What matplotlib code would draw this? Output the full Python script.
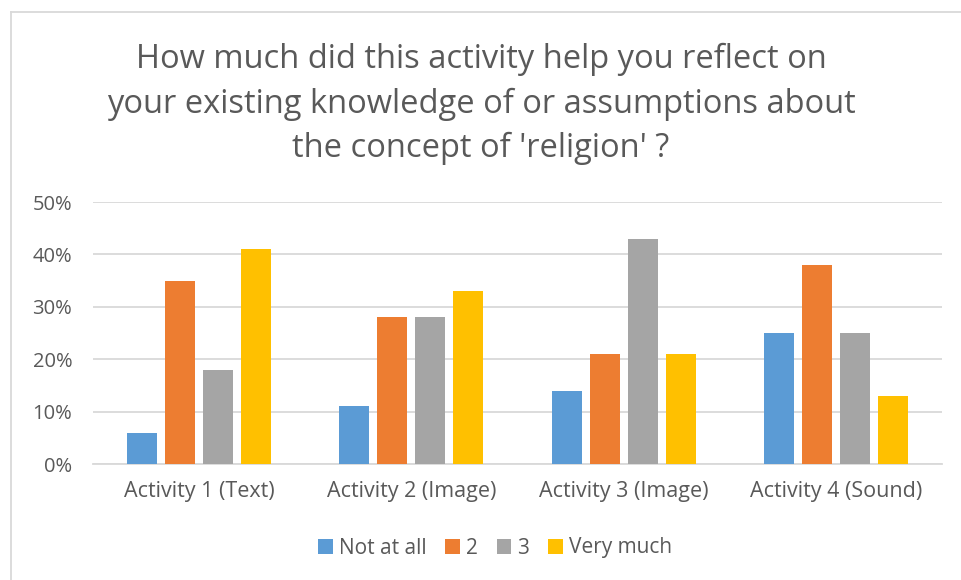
import numpy as np
import matplotlib
matplotlib.use("Agg")
import matplotlib.pyplot as plt
from matplotlib.lines import Line2D

plt.rcParams['font.family'] = ['Open Sans', 'DejaVu Sans']

# donnees
categories = ["Activity 1 (Text)", "Activity 2 (Image)", "Activity 3 (Image)", "Activity 4 (Sound)"]
series = ["Not at all", "2", "3", "Very much"]
not_at_all = [6, 11, 14, 25]
deux = [35, 28, 21, 38]
trois = [18, 28, 43, 25]
very_much = [41, 33, 21, 13]
valeurs = [not_at_all, deux, trois, very_much]
couleurs = ["#5b9bd5", "#ed7d31", "#a5a5a5", "#ffc000"]

texte = "#595959"
grille = "#d9d9d9"

fig = plt.figure(figsize=(9.62, 5.8), dpi=100)
ax = fig.add_axes([93/962, 1-464/580, (942-93)/962, (464-202)/580])

x = np.arange(len(categories))
pas = 0.179
largeur = 0.141
for i, (nom, vals, coul) in enumerate(zip(series, valeurs, couleurs)):
    ax.bar(x + (i-1.5)*pas, vals, width=largeur, color=coul, label=nom, zorder=3)

ax.set_xlim(-0.5, 3.5)
ax.set_ylim(0, 50)
ax.set_yticks(np.arange(0, 51, 10))
ax.set_yticklabels([f"{v}%" for v in range(0, 51, 10)])
ax.set_xticks(x)
ax.set_xticklabels(categories)
ax.tick_params(length=0, labelsize=14.5, colors=texte)
ax.tick_params(axis='x', pad=12, labelsize=15.5)
ax.tick_params(axis='y', pad=15)
ax.grid(axis='y', color=grille, linewidth=1.3, zorder=0)
for s in ["top", "right", "left"]:
    ax.spines[s].set_visible(False)
ax.spines["bottom"].set_color(grille)
ax.spines["bottom"].set_linewidth(1.3)

fig.text(0.5, 1-104/580, "How much did this activity help you reflect on\nyour existing knowledge of or assumptions about\nthe concept of 'religion' ?",
         ha='center', va='center', fontsize=23.5, color=texte, linespacing=1.45)

ax.legend(loc='center', ncol=4, frameon=False, fontsize=15, labelcolor=texte,
          handlelength=0.7, handleheight=0.7, handletextpad=0.3, columnspacing=0.9)
leg = ax.get_legend()
leg.set_bbox_to_anchor((495/962, 1-548/580), transform=fig.transFigure)

# bordure du graphique
fig.add_artist(Line2D([11/962, 11/962], [0, 1-12/580], transform=fig.transFigure, color=grille, linewidth=1.3))
fig.add_artist(Line2D([11/962, 1], [1-12/580, 1-12/580], transform=fig.transFigure, color=grille, linewidth=1.3))

fig.savefig("out.png", dpi=100)
